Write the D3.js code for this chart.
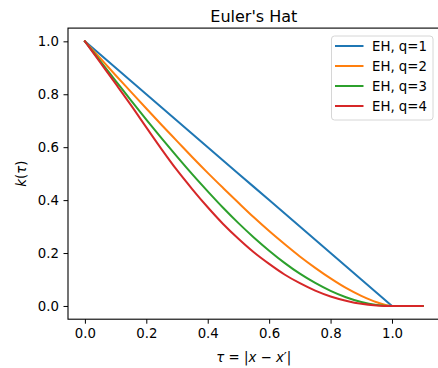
<!DOCTYPE html>
<html>
<head>
<meta charset="utf-8">
<script src="https://cdn.jsdelivr.net/npm/d3@7"></script>
<style>
  html, body { margin: 0; padding: 0; background: #fff; }
  svg { display: block; font-family: "DejaVu Sans", sans-serif; }
</style>
</head>
<body>
<svg id="chart" width="438" height="368"></svg>
<script>
// lag values tau = |x - x'|
const tau = [0, 0.05, 0.1, 0.15, 0.2, 0.25, 0.3, 0.35, 0.4, 0.45, 0.5,
             0.55, 0.6, 0.65, 0.7, 0.75, 0.8, 0.85, 0.9, 0.95, 1.0, 1.05, 1.1];

// kernel values k(tau) for each order q
const eh1 = [1, 0.95, 0.9, 0.85, 0.8, 0.75, 0.7, 0.65, 0.6, 0.55, 0.5,
             0.45, 0.4, 0.35, 0.3, 0.25, 0.2, 0.15, 0.1, 0.05, 0, 0, 0];
const eh2 = [1, 0.936, 0.872, 0.809, 0.746, 0.684, 0.623, 0.562, 0.503, 0.446, 0.390,
             0.335, 0.283, 0.234, 0.187, 0.144, 0.104, 0.068, 0.038, 0.014, 0, 0, 0];
const eh3 = [1, 0.925, 0.851, 0.777, 0.704, 0.633, 0.564, 0.497, 0.433, 0.371, 0.313,
             0.259, 0.209, 0.163, 0.122, 0.087, 0.057, 0.033, 0.015, 0.004, 0, 0, 0];
const eh4 = [1, 0.920, 0.840, 0.759, 0.675, 0.592, 0.513, 0.441, 0.373, 0.310, 0.254,
             0.203, 0.159, 0.119, 0.086, 0.058, 0.036, 0.020, 0.008, 0.002, 0, 0, 0];

const seriesNames = ["EH, q=1", "EH, q=2", "EH, q=3", "EH, q=4"];
const seriesColors = ["#1f77b4", "#ff7f0e", "#2ca02c", "#d62728"];
const xTicks = [0.0, 0.2, 0.4, 0.6, 0.8, 1.0];
const yTicks = [0.0, 0.2, 0.4, 0.6, 0.8, 1.0];

const svg = d3.select("#chart");

// axes frame
const frame = { left: 68, top: 28.1, right: 439.6, bottom: 319.2 };
const x = d3.scaleLinear().domain([-0.055, 1.155]).range([frame.left, frame.right]);
const y = d3.scaleLinear().domain([-0.05, 1.05]).range([frame.bottom, frame.top]);

const fs = 13.3;

// lines
const series = [eh1, eh2, eh3, eh4];
series.forEach((vals, i) => {
  const pts = tau.map((t, j) => [t, vals[j]]);
  const line = d3.line()
    .x(d => x(d[0]))
    .y(d => y(d[1]))
    .curve(i === 0 ? d3.curveLinear : d3.curveMonotoneX);
  svg.append("path")
    .attr("d", line(pts))
    .attr("fill", "none")
    .attr("stroke", seriesColors[i])
    .attr("stroke-width", 2)
    .attr("stroke-linejoin", "round")
    .attr("stroke-linecap", "square");
});

// x axis
const xAxis = svg.append("g")
  .attr("transform", `translate(0,${frame.bottom})`)
  .call(d3.axisBottom(x).tickValues(xTicks).tickFormat(d3.format(".1f"))
        .tickSize(4.5).tickPadding(4.5));
// y axis
const yAxis = svg.append("g")
  .attr("transform", `translate(${frame.left},0)`)
  .call(d3.axisLeft(y).tickValues(yTicks).tickFormat(d3.format(".1f"))
        .tickSize(4.5).tickPadding(4.5));

[xAxis, yAxis].forEach(g => {
  g.select(".domain").remove();
  g.selectAll(".tick line").attr("stroke", "#000").attr("stroke-width", 1);
  g.selectAll(".tick text")
    .attr("fill", "#000")
    .style("font-family", "DejaVu Sans")
    .style("font-size", fs + "px");
});

// spines
svg.append("rect")
  .attr("x", frame.left).attr("y", frame.top)
  .attr("width", frame.right - frame.left).attr("height", frame.bottom - frame.top)
  .attr("fill", "none").attr("stroke", "#000").attr("stroke-width", 1.1);

// title
svg.append("text")
  .attr("x", (frame.left + frame.right) / 2).attr("y", 21.5)
  .attr("text-anchor", "middle")
  .style("font-size", "16px")
  .text("Euler's Hat");

// x label: tau = |x - x'|
const xl = svg.append("text")
  .attr("x", (frame.left + frame.right) / 2).attr("y", 362)
  .attr("text-anchor", "middle")
  .style("font-size", fs + "px");
xl.append("tspan").style("font-style", "italic").text("τ");
xl.append("tspan").text(" = |");
xl.append("tspan").style("font-style", "italic").text("x");
xl.append("tspan").text(" − ");
xl.append("tspan").style("font-style", "italic").text("x");
xl.append("tspan").text("′|");

// y label: k(tau)
const yl = svg.append("text")
  .attr("transform", "translate(25.5,173.6) rotate(-90)")
  .attr("text-anchor", "middle")
  .style("font-size", fs + "px");
yl.append("tspan").style("font-style", "italic").text("k");
yl.append("tspan").text("(");
yl.append("tspan").style("font-style", "italic").text("τ");
yl.append("tspan").text(")");

// legend
const lg = svg.append("g");
lg.append("rect")
  .attr("x", 331.5).attr("y", 36).attr("width", 101.5).attr("height", 84)
  .attr("rx", 3).attr("ry", 3)
  .attr("fill", "#fff").attr("fill-opacity", 0.8)
  .attr("stroke", "#d6d6d6").attr("stroke-width", 1);
seriesNames.forEach((name, i) => {
  const yy = 46 + i * 20;
  lg.append("line")
    .attr("x1", 335).attr("x2", 363.5)
    .attr("y1", yy).attr("y2", yy)
    .attr("stroke", seriesColors[i]).attr("stroke-width", 2);
  lg.append("text")
    .attr("x", 372).attr("y", yy)
    .attr("dy", "0.35em")
    .style("font-size", fs + "px")
    .text(name);
});
</script>
</body>
</html>
